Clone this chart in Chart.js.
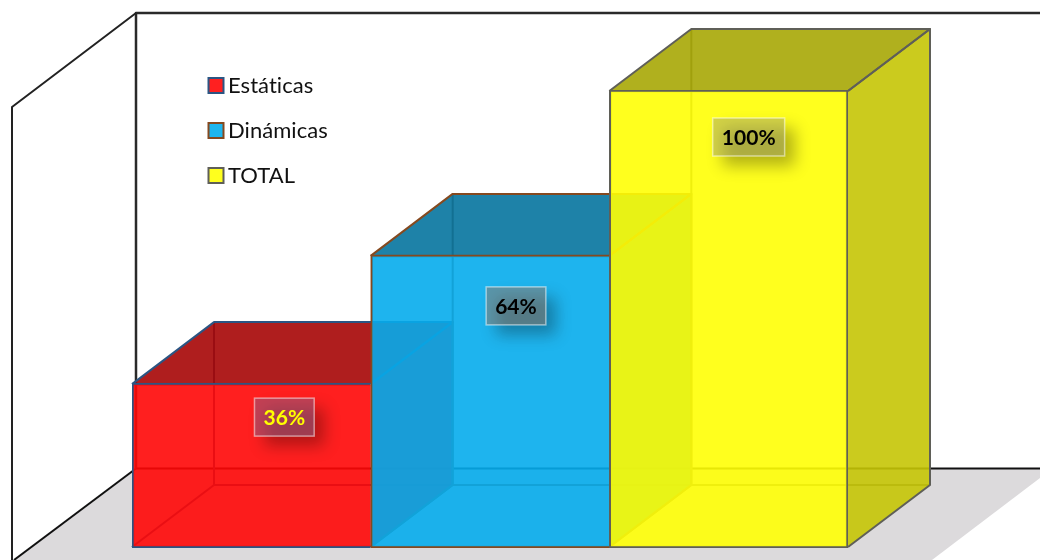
<!DOCTYPE html>
<html>
<head>
<meta charset="utf-8">
<title>Estáticas y Dinámicas</title>
<script src="https://cdn.jsdelivr.net/npm/chart.js@4"></script>
<style>
    html, body { margin: 0; padding: 0; background: #fff; }
    canvas { display: block; }
</style>
</head>
<body>
<canvas id="myGrafico" width="1040" height="560"></canvas>
<script>
// data
var categorias = ["Estáticas", "Dinámicas", "TOTAL"];
var valores = [36, 64, 100];
var etiquetas = ["36%", "64%", "100%"];

// colours per bar
var frente = ["rgba(255,7,7,.9)", "rgba(5,172,236,.9)", "rgba(255,255,5,.9)"];
var arriba = ["rgba(166,5,5,.9)", "rgba(5,116,158,.9)", "rgba(167,167,5,.9)"];
var lado = ["rgba(197,5,5,.9)", "rgba(5,130,180,.9)", "rgba(197,197,5,.9)"];
var borde = ["#2b5583", "#85491f", "#5f5f58"];
var swatch = ["#ff2020", "#1eb6ee", "#ffff1e"];
var textoColor = ["#ffff00", "#000000", "#000000"];
var cajaColor = ["rgba(135,98,138,.5)", "rgba(150,120,102,.5)", "rgba(165,165,110,.5)"];
var cajaOffset = [[33, 15], [26, 32], [20, 28]];

// depth of the 3d box
var fondoX = 82, fondoY = -62;

function poly(ctx, pts, fill, stroke, width) {
    ctx.beginPath();
    ctx.moveTo(pts[0][0], pts[0][1]);
    for (let i = 1; i < pts.length; i++) ctx.lineTo(pts[i][0], pts[i][1]);
    if (fill) { ctx.closePath(); ctx.fillStyle = fill; ctx.fill(); }
    if (stroke) { ctx.strokeStyle = stroke; ctx.lineWidth = width || 2; ctx.stroke(); }
}

var escena = {
    id: "escena",
    beforeDatasetsDraw: function (chart) {
        var ctx = chart.ctx;
        ctx.save();
        ctx.lineJoin = "round";
        // floor and walls
        poly(ctx, [[136, 468.5], [1040, 468.5], [1040, 478], [932, 560], [14, 560]], "#dcdadc");
        poly(ctx, [[136, 468.5], [1040, 468.5]], null, "#111", 2);
        poly(ctx, [[136, 468.5], [14, 560]], null, "#111", 2);
        poly(ctx, [[1040, 13], [136, 13], [136, 468.5]], null, "#2a2a2a", 2.5);
        poly(ctx, [[136, 13], [12, 107], [12, 560]], null, "#222", 2);

        // hidden edges, top and side of every box, the front comes from the bar itself
        chart.getDatasetMeta(0).data.forEach(function (bar, i) {
            var x0 = bar.x - bar.width / 2, x1 = bar.x + bar.width / 2;
            var y0 = bar.y + 1, y1 = bar.base - 1;
            poly(ctx, [[x0, y1], [x0 + fondoX, y1 + fondoY], [x1 + fondoX, y1 + fondoY]], null, borde[i], 2);
            poly(ctx, [[x0 + fondoX, y0 + fondoY], [x0 + fondoX, y1 + fondoY]], null, borde[i], 2);
            var techo = [[x0, y0], [x0 + fondoX, y0 + fondoY], [x1 + fondoX, y0 + fondoY], [x1, y0]];
            var pared = [[x1, y0], [x1 + fondoX, y0 + fondoY], [x1 + fondoX, y1 + fondoY], [x1, y1]];
            poly(ctx, techo, arriba[i]);
            poly(ctx, pared, lado[i]);
            // open outlines, so the next bar's front edge stays clean
            poly(ctx, techo, null, borde[i], 2);
            poly(ctx, pared, null, borde[i], 2);
        });
        ctx.restore();
    },
    afterDatasetsDraw: function (chart) {
        var ctx = chart.ctx;
        ctx.save();
        ctx.letterSpacing = "0.05px"; // keeps Lato from joining "ti"
        // data labels
        ctx.font = "bold 21px Lato";
        ctx.textAlign = "center";
        ctx.textBaseline = "middle";
        chart.getDatasetMeta(0).data.forEach(function (bar, i) {
            var w = ctx.measureText(etiquetas[i]).width + 18, h = 38;
            var cx = bar.x + cajaOffset[i][0], top = bar.y + cajaOffset[i][1];
            // only the shadow, the rect itself is off canvas
            ctx.save();
            ctx.shadowColor = "rgba(0,0,0,.3)";
            ctx.shadowBlur = 16;
            ctx.shadowOffsetX = 2000 + 10;
            ctx.shadowOffsetY = 10;
            ctx.fillStyle = "#000";
            ctx.fillRect(cx - w / 2 - 2000, top, w, h);
            ctx.restore();
            ctx.fillStyle = cajaColor[i];
            ctx.fillRect(cx - w / 2, top, w, h);
            ctx.strokeStyle = "rgba(255,255,255,.5)";
            ctx.lineWidth = 1.5;
            ctx.strokeRect(cx - w / 2, top, w, h);
            ctx.fillStyle = textoColor[i];
            ctx.fillText(etiquetas[i], cx, top + h / 2 + 1);
        });

        // legend
        ctx.font = "22px Lato";
        ctx.textAlign = "left";
        categorias.forEach(function (nombre, i) {
            var y = 85.5 + i * 45;
            ctx.fillStyle = swatch[i];
            ctx.fillRect(208.5, y - 7.5, 15, 15);
            ctx.strokeStyle = borde[i];
            ctx.lineWidth = 2;
            ctx.strokeRect(208.5, y - 7.5, 15, 15);
            ctx.fillStyle = "#111";
            ctx.fillText(nombre, 228, y);
        });
        ctx.restore();
    }
};

var ctx = document.getElementById("myGrafico").getContext("2d");
var chart = new Chart(ctx, {
    type: "bar",
    data: {
        labels: categorias,
        datasets: [{
            label: "Porcentaje",
            data: valores,
            backgroundColor: frente,
            borderColor: borde,
            borderSkipped: false,
            borderWidth: function (c) {
                return { top: 2, left: 2, bottom: 2, right: c.dataIndex == 2 ? 2 : 0 };
            },
            categoryPercentage: 1,
            barPercentage: 1
        }]
    },
    options: {
        responsive: false,
        animation: false,
        layout: { padding: { left: 132, right: 192, top: 90, bottom: 12 } },
        plugins: { legend: { display: false }, tooltip: { enabled: false } },
        scales: {
            x: { display: false },
            y: { display: false, min: 0, max: 100 }
        }
    },
    plugins: [escena]
});
</script>
</body>
</html>
